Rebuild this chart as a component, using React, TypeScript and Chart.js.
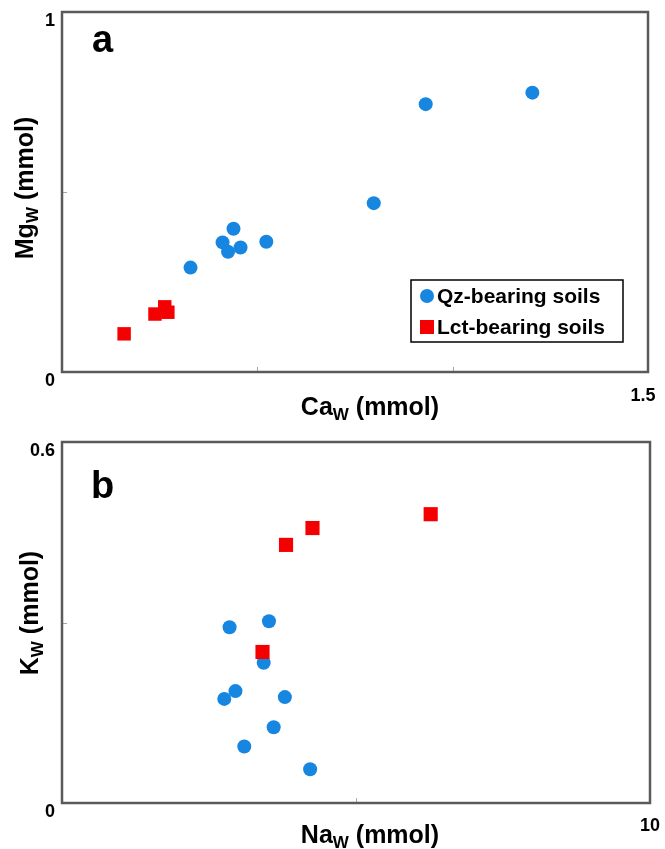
import React, { useEffect, useRef } from 'react';
import { Chart, registerables } from 'chart.js';
Chart.register(...registerables);

const QZ_LABEL = 'Qz-bearing soils';
const LCT_LABEL = 'Lct-bearing soils';
const BLUE = '#1686e0';
const RED = '#f50000';

// Panel a: Ca_W vs Mg_W (mmol)
const caQz = [0.329, 0.411, 0.425, 0.439, 0.457, 0.523, 0.798, 0.931, 1.204];
const mgQz = [0.290, 0.360, 0.334, 0.398, 0.346, 0.362, 0.469, 0.744, 0.776];
const caLct = [0.159, 0.238, 0.263, 0.271];
const mgLct = [0.106, 0.161, 0.181, 0.166];
const xTicksA = [0, 0.5, 1, 1.5];
const xTickLabelsA = ['', '', '', '1.5'];
const yTicksA = [0, 0.5, 1];
const yTickLabelsA = ['0', '', '1'];

// Panel b: Na_W vs K_W (mmol)
const naQz = [2.85, 3.52, 3.43, 2.95, 2.76, 3.79, 3.60, 3.10, 4.22];
const kQz = [0.292, 0.302, 0.233, 0.186, 0.173, 0.176, 0.126, 0.094, 0.056];
const naLct = [3.81, 4.26, 6.27, 3.41];
const kLct = [0.429, 0.457, 0.480, 0.251];
const xTicksB = [0, 5, 10];
const xTickLabelsB = ['', '', '10'];
const yTicksB = [0, 0.3, 0.6];
const yTickLabelsB = ['0', '', '0.6'];

const FONT = '"Liberation Sans", Arial, Helvetica, sans-serif';

type TitleParts = [string, string, string];

function drawSubText(ctx: CanvasRenderingContext2D, parts: TitleParts, cx: number, by: number) {
  const main = `bold 25px ${FONT}`;
  const sub = `bold 17px ${FONT}`;
  ctx.font = main;
  const w1 = ctx.measureText(parts[0]).width;
  const w3 = ctx.measureText(parts[2]).width;
  ctx.font = sub;
  const w2 = ctx.measureText(parts[1]).width;
  let x = cx - (w1 + w2 + w3) / 2;
  ctx.textAlign = 'left';
  ctx.textBaseline = 'alphabetic';
  ctx.fillStyle = '#000';
  ctx.font = main;
  ctx.fillText(parts[0], x, by);
  x += w1;
  ctx.font = sub;
  ctx.fillText(parts[1], x, by + 5);
  x += w2;
  ctx.font = main;
  ctx.fillText(parts[2], x, by);
}

interface PanelProps {
  top: number;
  height: number;
  xAxisH: number;
  letter: string;
  letterPos: [number, number];
  xTitle: TitleParts;
  yTitle: TitleParts;
  xTitlePos: [number, number];
  yTitlePos: [number, number];
  qx: number[]; qy: number[]; lx: number[]; ly: number[];
  xTicks: number[]; xLabels: string[];
  yTicks: number[]; yLabels: string[];
  padTop: number; padRight: number;
  xLabelOffset: number; xLabelPad: number;
  squareR: number;
  legend: boolean;
}

function zeroPad(s: any) {
  s.paddingLeft = 0;
  s.paddingRight = 0;
  s.paddingTop = 0;
  s.paddingBottom = 0;
}

function Panel(p: PanelProps) {
  const ref = useRef<HTMLCanvasElement>(null);
  useEffect(() => {
    if (!ref.current) return;
    const decor = {
      id: 'decor',
      afterDraw(chart: any) {
        const ctx: CanvasRenderingContext2D = chart.ctx;
        const a = chart.chartArea;
        const xs = chart.scales.x;
        const ys = chart.scales.y;
        ctx.save();
        // inner tick marks
        ctx.strokeStyle = '#a8a8a8';
        ctx.lineWidth = 1;
        p.xTicks.slice(1, -1).forEach((v) => {
          const px = Math.round(xs.getPixelForValue(v)) + 0.5;
          ctx.beginPath();
          ctx.moveTo(px, a.bottom);
          ctx.lineTo(px, a.bottom - 5);
          ctx.stroke();
        });
        p.yTicks.slice(1, -1).forEach((v) => {
          const py = Math.round(ys.getPixelForValue(v)) + 0.5;
          ctx.beginPath();
          ctx.moveTo(a.left, py);
          ctx.lineTo(a.left + 5, py);
          ctx.stroke();
        });
        // frame
        ctx.strokeStyle = '#5a5a5a';
        ctx.lineWidth = 2.5;
        ctx.strokeRect(a.left, a.top, a.right - a.left, a.bottom - a.top);
        // panel letter
        ctx.fillStyle = '#000';
        ctx.font = `bold 38px ${FONT}`;
        ctx.textAlign = 'left';
        ctx.textBaseline = 'alphabetic';
        ctx.fillText(p.letter, p.letterPos[0], p.letterPos[1]);
        // axis titles
        drawSubText(ctx, p.xTitle, p.xTitlePos[0], p.xTitlePos[1]);
        ctx.save();
        ctx.translate(p.yTitlePos[0], p.yTitlePos[1]);
        ctx.rotate(-Math.PI / 2);
        drawSubText(ctx, p.yTitle, 0, 0);
        ctx.restore();
        // legend
        if (p.legend) {
          const ds = chart.data.datasets;
          ctx.strokeStyle = '#000';
          ctx.lineWidth = 1.5;
          ctx.strokeRect(411, 280, 212, 62);
          ctx.fillStyle = ds[0].backgroundColor;
          ctx.beginPath();
          ctx.arc(427, 296, 7, 0, Math.PI * 2);
          ctx.fill();
          ctx.fillStyle = ds[1].backgroundColor;
          ctx.fillRect(420, 320, 14, 14);
          ctx.fillStyle = '#000';
          ctx.font = `bold 21px ${FONT}`;
          ctx.textAlign = 'left';
          ctx.fillText(ds[0].label, 437, 303);
          ctx.fillText(ds[1].label, 437, 334);
        }
        ctx.restore();
      },
    };
    const chart = new Chart(ref.current, {
      type: 'scatter',
      data: {
        datasets: [
          {
            label: QZ_LABEL,
            data: p.qx.map((x, i) => ({ x, y: p.qy[i] })),
            pointStyle: 'circle',
            pointRadius: 7,
            pointHoverRadius: 7,
            backgroundColor: BLUE,
            borderWidth: 0,
            order: 1,
          },
          {
            label: LCT_LABEL,
            data: p.lx.map((x, i) => ({ x, y: p.ly[i] })),
            pointStyle: 'rect',
            pointRadius: p.squareR,
            pointHoverRadius: p.squareR,
            backgroundColor: RED,
            borderWidth: 0,
            order: 0,
          },
        ],
      },
      options: {
        animation: false,
        responsive: false,
        devicePixelRatio: 1,
        layout: { autoPadding: false, padding: { top: p.padTop, right: p.padRight, left: 0, bottom: 0 } },
        plugins: { legend: { display: false }, tooltip: { enabled: false } },
        scales: {
          x: {
            type: 'linear',
            min: p.xTicks[0],
            max: p.xTicks[p.xTicks.length - 1],
            grid: { display: false, drawTicks: false },
            border: { display: false },
            afterBuildTicks: (s: any) => { s.ticks = p.xTicks.map((v) => ({ value: v })); },
            afterFit: (s: any) => { s.height = p.xAxisH; zeroPad(s); },
            ticks: {
              autoSkip: false,
              maxRotation: 0,
              padding: p.xLabelPad,
              labelOffset: p.xLabelOffset,
              color: '#000',
              font: { family: FONT, weight: 'bold', size: 18 },
              callback: (_v: any, i: number) => p.xLabels[i],
            },
          },
          y: {
            type: 'linear',
            min: p.yTicks[0],
            max: p.yTicks[p.yTicks.length - 1],
            grid: { display: false, drawTicks: false },
            border: { display: false },
            afterBuildTicks: (s: any) => { s.ticks = p.yTicks.map((v) => ({ value: v })); },
            afterFit: (s: any) => { s.width = 62; zeroPad(s); },
            ticks: {
              autoSkip: false,
              padding: 7,
              labelOffset: 9,
              color: '#000',
              font: { family: FONT, weight: 'bold', size: 18 },
              callback: (_v: any, i: number) => p.yLabels[i],
            },
          },
        },
      } as any,
      plugins: [decor],
    });
    return () => chart.destroy();
  }, []);
  return (
    <canvas
      ref={ref}
      width={665}
      height={p.height}
      style={{ position: 'absolute', left: 0, top: p.top, width: 665, height: p.height, display: 'block' }}
    />
  );
}

export default function App() {
  return (
    <div style={{ position: 'fixed', left: 0, top: 0, width: 665, height: 849, background: '#fff', overflow: 'hidden' }}>
      <Panel
        top={0}
        height={425}
        xAxisH={53}
        letter="a"
        letterPos={[92, 52]}
        xTitle={['Ca', 'W', ' (mmol)']}
        yTitle={['Mg', 'W', ' (mmol)']}
        xTitlePos={[370, 415]}
        yTitlePos={[33, 188]}
        qx={caQz} qy={mgQz} lx={caLct} ly={mgLct}
        xTicks={xTicksA} xLabels={xTickLabelsA}
        yTicks={yTicksA} yLabels={yTickLabelsA}
        padTop={12} padRight={17}
        xLabelOffset={-5} xLabelPad={13}
        squareR={9.5}
        legend={true}
      />
      <Panel
        top={425}
        height={424}
        xAxisH={46}
        letter="b"
        letterPos={[91, 73]}
        xTitle={['Na', 'W', ' (mmol)']}
        yTitle={['K', 'W', ' (mmol)']}
        xTitlePos={[370, 418]}
        yTitlePos={[38, 188]}
        qx={naQz} qy={kQz} lx={naLct} ly={kLct}
        xTicks={xTicksB} xLabels={xTickLabelsB}
        yTicks={yTicksB} yLabels={yTickLabelsB}
        padTop={17} padRight={15}
        xLabelOffset={0} xLabelPad={12}
        squareR={10}
        legend={false}
      />
    </div>
  );
}
